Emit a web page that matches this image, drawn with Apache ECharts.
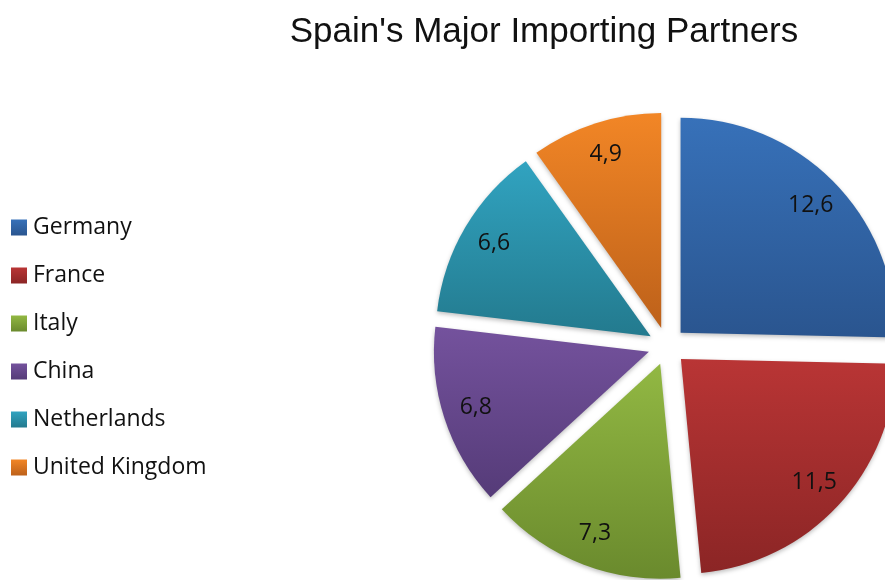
<!DOCTYPE html>
<html>
<head>
<meta charset="utf-8">
<script src="https://cdn.jsdelivr.net/npm/echarts@6/dist/echarts.min.js"></script>
<style>
  html, body { margin: 0; padding: 0; background: #fff; }
  #chart { width: 885px; height: 580px; }
</style>
</head>
<body>
<div id="chart"></div>
<script>
// data
const countries = ['Germany', 'France', 'Italy', 'China', 'Netherlands', 'United Kingdom'];
const shares = [12.6, 11.5, 7.3, 6.8, 6.6, 4.9];
// top / bottom colour of each slice gradient
const topColors = ['#3771b9', '#b93535', '#92b843', '#74529d', '#31a3c0', '#f28626'];
const bottomColors = ['#2a558f', '#8b2525', '#6a8a2d', '#553b78', '#237a8e', '#bd611a'];

const grad = (i) => new echarts.graphic.LinearGradient(0, 0, 0, 1, [
    {offset: 0, color: topColors[i]},
    {offset: 1, color: bottomColors[i]}
]);

const chart = echarts.init(document.getElementById('chart'));

const option = {
    animation: false,
    title: {
        text: "Spain's Major Importing Partners",
        left: 539,
        textAlign: 'center',
        top: 10,
        textStyle: {fontFamily: 'Liberation Sans', fontSize: 35, fontWeight: 'normal', color: '#111'}
    },
    legend: {
        orient: 'vertical',
        left: 11,
        top: 216,
        padding: 0,
        itemWidth: 16,
        itemHeight: 16,
        itemGap: 25,
        icon: 'rect',
        selectedMode: false,
        textStyle: {fontFamily: 'Open Sans', fontSize: 23, color: '#111', padding: [0, 0, 0, 1]},
        data: countries
    },
    series: [
        {
            type: 'pie',
            center: [667, 346],
            radius: 215,
            startAngle: 90,
            selectedMode: 'multiple',
            selectedOffset: 19,
            label: {show: false},
            labelLine: {show: false},
            emphasis: {disabled: true},
            itemStyle: {shadowBlur: 4, shadowColor: 'rgba(0,0,0,0.25)', shadowOffsetY: 2},
            data: countries.map((c, i) => ({
                name: c, value: shares[i], selected: true,
                itemStyle: {color: grad(i)}
            }))
        },
        {
            // invisible copy used only to place the value labels further out
            type: 'pie',
            center: [667, 346],
            radius: 358,
            startAngle: 90,
            silent: true,
            selectedMode: 'multiple',
            selectedOffset: 19,
            z: 5,
            itemStyle: {color: 'rgba(0,0,0,0)'},
            emphasis: {disabled: true},
            labelLine: {show: false},
            label: {
                show: true,
                position: 'inside',
                fontFamily: 'Open Sans',
                fontSize: 23,
                color: '#111',
                formatter: (p) => String(p.value).replace('.', ',')
            },
            data: countries.map((c, i) => ({name: c, value: shares[i], selected: true}))
        }
    ]
};

chart.setOption(option);
</script>
</body>
</html>
